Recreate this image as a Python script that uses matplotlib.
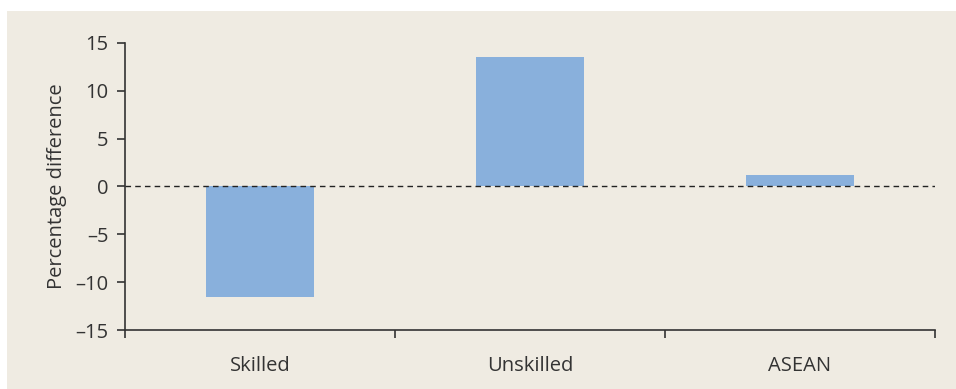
import matplotlib
matplotlib.use("Agg")
import matplotlib.pyplot as plt
from matplotlib.patches import Rectangle

# Данные
categories = ["Skilled", "Unskilled", "ASEAN"]
values = [-11.6, 13.5, 1.25]
yticks = [-15, -10, -5, 0, 5, 10, 15]

bg = "#efebe2"
bar_color = "#89b0dc"
text_color = "#333333"

plt.rcParams["font.family"] = ["Open Sans", "DejaVu Sans"]

fig = plt.figure(figsize=(9.56, 3.89), dpi=100)
fig.patch.set_facecolor("white")
fig.patches.append(Rectangle((7 / 956, 0), 1 - 7 / 956, 1 - 11 / 389,
                             transform=fig.transFigure, facecolor=bg,
                             edgecolor="none", zorder=-1))

ax = fig.add_axes([125 / 956, 1 - 330 / 389, (935 - 125) / 956, (330 - 43) / 389])
ax.set_facecolor(bg)

x = [i + 0.5 for i in range(len(categories))]
ax.bar(x, values, width=0.4, color=bar_color, zorder=2)
ax.axhline(0, color="#222222", linestyle=(0, (4, 3)), linewidth=1, zorder=3)

ax.set_xlim(0, 3)
ax.set_ylim(-15, 15)
ax.set_yticks(yticks)
ax.set_yticklabels([str(t).replace("-", "\u2013") for t in yticks])
ax.set_xticks([0, 1, 2, 3])
ax.set_xticklabels([])
ax.set_xticks(x, minor=True)
ax.set_xticklabels(categories, minor=True)
ax.tick_params(axis="x", which="minor", length=0, pad=19)
ax.tick_params(axis="x", which="major", length=6, width=1.2, color="#333333")
ax.tick_params(axis="y", length=6, width=1.2, color="#333333", pad=6)
ax.tick_params(which="both", labelsize=14.5, labelcolor=text_color)

for s in ["top", "right"]:
    ax.spines[s].set_visible(False)
for s in ["left", "bottom"]:
    ax.spines[s].set_color("#333333")
    ax.spines[s].set_linewidth(1.2)

ax.set_ylabel("Percentage difference", fontsize=14.5, color=text_color, labelpad=6)

fig.savefig("out.png", dpi=100, facecolor=fig.get_facecolor())
